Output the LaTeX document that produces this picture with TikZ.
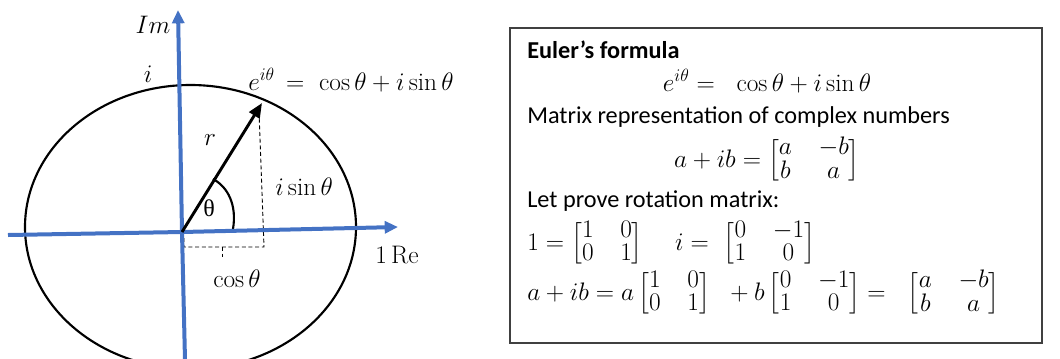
\RequirePackage{fix-cm}
\documentclass[tikz,border=0pt]{standalone}
\usepackage{amsmath}
\usepackage{fontspec}
\newfontfamily\carlito{Carlito}
\newfontfamily\timesf{Liberation Serif}
\usetikzlibrary{arrows.meta}
\definecolor{axisblue}{HTML}{4472C4}
\definecolor{boxgray}{HTML}{404040}
\newcommand{\mtx}[4]{{\renewcommand{\arraystretch}{0.7}\setlength{\arraycolsep}{10pt}\Bigl[\begin{matrix}#1 & #2\\ #3 & #4\end{matrix}\Bigr]}}
\begin{document}
\begin{tikzpicture}[x=0.75pt,y=-0.75pt,
  axis/.style={draw=axisblue,line width=3pt,-{Triangle[length=10pt,width=9pt]}},
  axisline/.style={draw=axisblue,line width=3pt},
  circ/.style={draw=black,line width=1.6pt},
  vec/.style={draw=black,line width=2.2pt,-{Triangle[length=11pt,width=9pt]}},
  dashln/.style={draw=black,line width=0.7pt,dash pattern=on 3pt off 2pt},
  lbl/.style={inner sep=0pt,font=\fontsize{19}{23}\selectfont},
  txt/.style={inner sep=0pt,font=\carlito\fontsize{18.2}{22}\selectfont},
  mth/.style={inner sep=0pt,font=\fontsize{19}{23}\selectfont},
  frame/.style={draw=boxgray,line width=1pt}]
\useasboundingbox (0,0) rectangle (1060,358);
% coordinates
\coordinate (O) at (182,232);
\coordinate (Ytop) at (178,10);
\coordinate (Ybot) at (185,360);
\coordinate (Xl) at (8,235);
\coordinate (Xr) at (398,227);
\coordinate (P) at (262,103);
\coordinate (Pd) at (259,112);
\coordinate (C) at (264,247);
\coordinate (D) at (184,247);
\coordinate (Dt) at (184,236);
\coordinate (Tk1) at (222,247);
\coordinate (Tk2) at (222,257);
\coordinate (A0) at (233,229);
\coordinate (A1) at (213,179);
% ellipse
\draw[circ] (190.5,227) ellipse [x radius=165.5, y radius=142];
% dashed projections
\draw[dashln] (Pd) -- (C) -- (D) -- (Dt);
\draw[dashln] (Tk1) -- (Tk2);
% angle arc
\draw[black,line width=1.6pt] (A0) .. controls (237,205) and (228,187) .. (A1);
% axes
\draw[axisline] (Xl) -- (O);
\draw[axis] (O) -- (Xr);
\draw[axisline] (Ybot) -- (O);
\draw[axis] (O) -- (Ytop);
% vector
\draw[vec] (O) -- (P);
% left labels
\node[lbl,anchor=base] (lIm) at (153,33) {$Im$};
\node[lbl,anchor=base] (li) at (148,82) {$i$};
\node[lbl,anchor=base west] (le) at (248,90) {$e^{i\theta}\,=\ \cos\theta+i\sin\theta$};
\node[lbl,anchor=base] (lr) at (210,145) {$r$};
\node[lbl,anchor=center,font=\timesf\fontsize{18}{20}\selectfont] (lth) at (209,208) {θ};
\node[lbl,anchor=base west] (lsin) at (275,195) {$i\sin\theta$};
\node[lbl,anchor=base west] (lcos) at (213,287) {$\cos\theta$};
\node[lbl,anchor=base west] (lre) at (375,263) {$1\,\mathrm{Re}$};
% right box
\draw[frame] (510,28) rectangle (1042,343);
\node[txt,anchor=base west] (t1) at (527,58) {\bfseries Euler’s formula};
\node[mth,anchor=base] (t2) at (767,91) {$e^{i\theta} =\;\ \cos\theta+i\sin\theta$};
\node[txt,anchor=base west] (t3) at (527,123) {Matrix\ representation\ of\ complex\ numbers};
\node[mth,anchor=base] (t4) at (767,167) {$a+ib=\mtx{a}{-b}{b}{a}$};
\node[txt,anchor=base west] (t5) at (527,207) {Let prove\ rotation\ matrix:};
\node[mth,anchor=base west] (t6) at (527,250) {$1=\mtx{1}{0}{0}{1}\quad\; i=\ \mtx{0}{-1}{1}{0}$};
\node[mth,anchor=base west] (t7) at (527,300) {$a+ib=a\,\mtx{1}{0}{0}{1}\ \;+b\,\mtx{0}{-1}{1}{0}=\ \ \mtx{a}{-b}{b}{a}$};
\end{tikzpicture}
\end{document}
